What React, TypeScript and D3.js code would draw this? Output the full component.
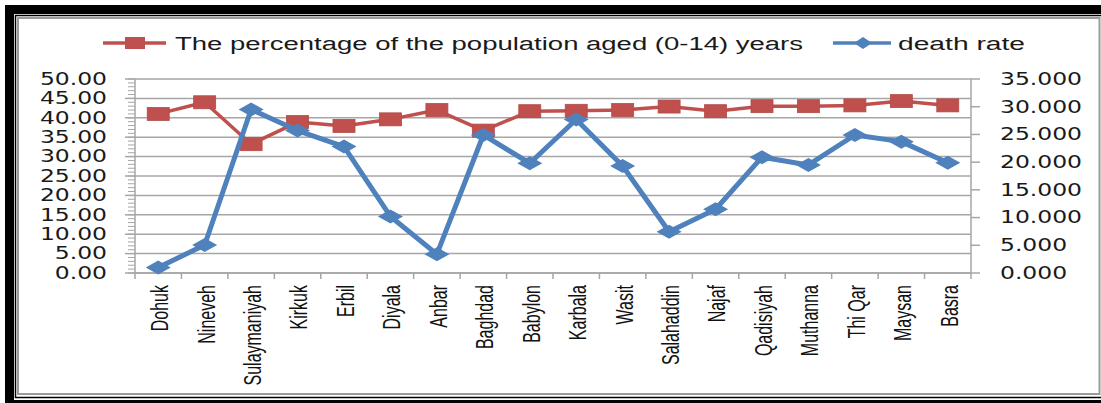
import React from "react";
import * as d3 from "d3";

// governorates along the x axis
const regions = [
  "Dohuk", "Nineveh", "Sulaymaniyah", "Kirkuk", "Erbil", "Diyala", "Anbar", "Baghdad", "Babylon",
  "Karbala", "Wasit", "Salahaddin", "Najaf", "Qadisiyah", "Muthanna", "Thi Qar", "Maysan", "Basra",
];

// % of population aged 0-14 (left axis)
const popShare = [41.0, 44.0, 33.2, 38.9, 37.9, 39.6, 42.0, 36.7, 41.7, 41.8, 42.0, 42.9, 41.7, 43.0, 43.0, 43.2, 44.3, 43.2];

// death rate (right axis)
const deathRate = [1.0, 5.05, 29.5, 25.7, 22.8, 10.2, 3.4, 24.9, 19.8, 27.7, 19.3, 7.45, 11.5, 20.9, 19.5, 24.9, 23.7, 19.9];

const leftTicks = [0, 5, 10, 15, 20, 25, 30, 35, 40, 45, 50];
const rightTicks = [0, 5, 10, 15, 20, 25, 30, 35];

const popLabel = "The percentage of the population aged (0-14) years";
const rateLabel = "death rate";

const RED = "#C0504D";
const BLUE = "#4F81BD";
const GRID = "#A6A6A6";
const SX = 1.38; // horizontal stretch of the text

const App = () => {
  const W = 1101;
  const H = 403;
  const plot = { left: 135, right: 971, top: 79, bottom: 273 };

  const x = d3.scaleBand().domain(regions).range([plot.left, plot.right]);
  const yL = d3.scaleLinear().domain([0, 50]).range([plot.bottom, plot.top]);
  const yR = d3.scaleLinear().domain([0, 35]).range([plot.bottom, plot.top]);
  const cx = (d: string) => (x(d) as number) + x.bandwidth() / 2;

  const redLine = d3.line<number>().x((_, i) => cx(regions[i])).y((d) => yL(d));
  const blueLine = d3.line<number>().x((_, i) => cx(regions[i])).y((d) => yR(d));

  const fmtL = d3.format(".2f");
  const fmtR = d3.format(".3f");
  const minor = d3.range(0, 51, 1);

  const diamond = (px: number, py: number, w: number, h: number) =>
    `M${px - w / 2},${py} L${px},${py - h / 2} L${px + w / 2},${py} L${px},${py + h / 2} Z`;

  return (
    <div style={{ position: "absolute", left: 0, top: 0 }}>
      <svg width={W} height={H} style={{ display: "block" }}>
        {/* frame */}
        <rect x={5} y={5} width={1110} height={410} fill="#000" />
        <rect x={14} y={14} width={1100} height={386} fill="#fff" />
        <rect x={15.5} y={15.5} width={1100} height={382} fill="none" stroke="#000" strokeWidth={1.5} />
        <rect x={18} y={18} width={1081.5} height={376} fill="#fff" stroke="#9a9a9a" strokeWidth={2} />

        {/* legend */}
        <g>
          <line x1={103} x2={166} y1={43} y2={43} stroke={RED} strokeWidth={3.5} />
          <rect x={125} y={37} width={20} height={12} fill={RED} />
          <text
            x={175}
            y={44}
            dominantBaseline="central"
            fontFamily="Liberation Sans, Arial, sans-serif"
            fontSize={18}
            fill="#1a1a1a"
            textLength={628}
            lengthAdjust="spacingAndGlyphs"
          >
            {popLabel}
          </text>
          <line x1={833} x2={891} y1={43} y2={43} stroke={BLUE} strokeWidth={3.5} />
          <path d={diamond(863, 43, 18, 12)} fill={BLUE} />
          <text
            x={898}
            y={44}
            dominantBaseline="central"
            fontFamily="Liberation Sans, Arial, sans-serif"
            fontSize={18}
            fill="#1a1a1a"
            textLength={127}
            lengthAdjust="spacingAndGlyphs"
          >
            {rateLabel}
          </text>
        </g>

        {/* gridlines */}
        {leftTicks.map((t) => (
          <line key={"g" + t} x1={plot.left} x2={plot.right} y1={yL(t)} y2={yL(t)} stroke={GRID} strokeWidth={1.5} />
        ))}

        {/* left axis */}
        <line x1={plot.left} x2={plot.left} y1={plot.top} y2={plot.bottom} stroke={GRID} strokeWidth={1.5} />
        {minor.map((t) => (
          <line key={"m" + t} x1={plot.left - 7} x2={plot.left} y1={yL(t)} y2={yL(t)} stroke={GRID} strokeWidth={1} />
        ))}
        {leftTicks.map((t) => (
          <g key={"l" + t}>
            <line x1={plot.left - 10} x2={plot.left} y1={yL(t)} y2={yL(t)} stroke={GRID} strokeWidth={1.5} />
            <text
              transform={`translate(107,${yL(t)}) scale(${SX},1)`}
              textAnchor="end"
              dominantBaseline="central"
              fontFamily="DejaVu Sans, Verdana, sans-serif"
              fontSize={17}
              fill="#1a1a1a"
            >
              {fmtL(t)}
            </text>
          </g>
        ))}

        {/* right axis */}
        <line x1={plot.right} x2={plot.right} y1={plot.top} y2={plot.bottom} stroke={GRID} strokeWidth={1.5} />
        {rightTicks.map((t) => (
          <g key={"r" + t}>
            <line x1={plot.right} x2={plot.right + 9} y1={yR(t)} y2={yR(t)} stroke={GRID} strokeWidth={1.5} />
            <text
              transform={`translate(1000,${yR(t)}) scale(${SX},1)`}
              textAnchor="start"
              dominantBaseline="central"
              fontFamily="DejaVu Sans, Verdana, sans-serif"
              fontSize={17}
              fill="#1a1a1a"
            >
              {fmtR(t)}
            </text>
          </g>
        ))}

        {/* bottom axis */}
        <line x1={plot.left} x2={plot.right} y1={plot.bottom} y2={plot.bottom} stroke={GRID} strokeWidth={1.5} />
        {regions.map((r) => (
          <line key={"t" + r} x1={x(r) as number} x2={x(r) as number} y1={plot.bottom} y2={plot.bottom + 6} stroke={GRID} strokeWidth={1.5} />
        ))}
        <line x1={plot.right} x2={plot.right} y1={plot.bottom} y2={plot.bottom + 6} stroke={GRID} strokeWidth={1.5} />
        {regions.map((r) => (
          <text
            key={"c" + r}
            transform={`translate(${cx(r) + 1},285) scale(1.55,1) rotate(-90)`}
            textAnchor="end"
            dominantBaseline="central"
            fontFamily="Liberation Sans, Arial, sans-serif"
            fontSize={16}
            fill="#111"
          >
            {r}
          </text>
        ))}

        {/* population share series */}
        <path d={redLine(popShare) as string} fill="none" stroke={RED} strokeWidth={3.5} strokeLinejoin="round" />
        {popShare.map((v, i) => (
          <rect key={"s" + i} x={cx(regions[i]) - 11} y={yL(v) - 6.5} width={22} height={13} fill={RED} stroke="#B34B48" strokeWidth={0.8} />
        ))}

        {/* death rate series */}
        <path d={blueLine(deathRate) as string} fill="none" stroke={BLUE} strokeWidth={5} strokeLinejoin="round" />
        {deathRate.map((v, i) => (
          <path key={"d" + i} d={diamond(cx(regions[i]), yR(v), 25, 14)} fill={BLUE} />
        ))}
      </svg>
    </div>
  );
};

export default App;
